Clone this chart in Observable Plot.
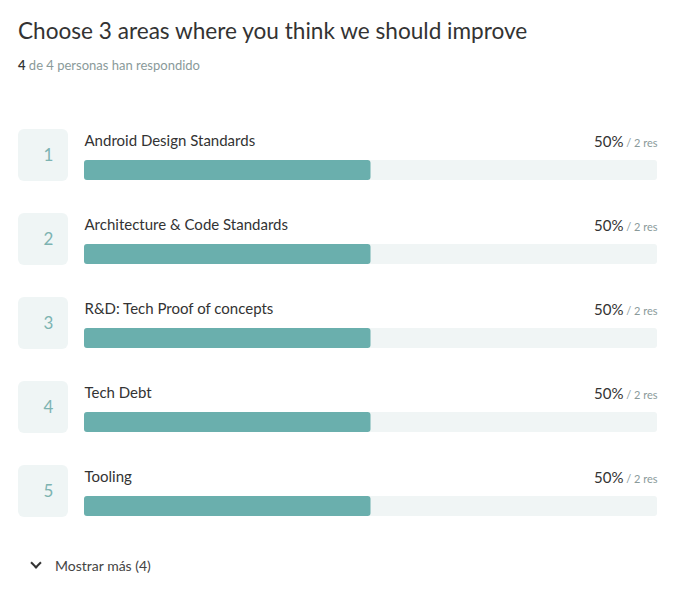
<!DOCTYPE html>
<html><head><meta charset="utf-8">
<script src="https://cdn.jsdelivr.net/npm/d3@7"></script>
<script src="https://cdn.jsdelivr.net/npm/@observablehq/plot@0.6"></script>
<style>
body{margin:0;background:#fff;font-family:Lato,"Open Sans",sans-serif;}
#wrap{position:relative;width:700px;height:602px;overflow:hidden;}
#title{position:absolute;left:18px;top:17px;font-size:22.6px;line-height:28px;color:#333;white-space:nowrap;}
#sub{position:absolute;left:18px;top:57px;font-size:13px;line-height:16px;color:#8a9a9a;}
#sub b{color:#333;font-weight:600;}
#chart{position:absolute;left:0;top:110px;}
#more{position:absolute;left:55px;top:557px;font-size:14px;line-height:18px;color:#444;}
.chev{position:absolute;left:-23px;top:2px;width:6px;height:6px;border-right:2px solid #333;border-bottom:2px solid #333;transform:rotate(45deg);}
</style></head><body>
<div id="wrap">
<div id="title">Choose 3 areas where you think we should improve</div>
<div id="sub"></div>
<div id="chart"></div>
<div id="more"><span class="chev"></span>Mostrar más (4)</div>
</div>
<script>
const ranks = ["1", "2", "3", "4", "5"];
const options = ["Android Design Standards", "Architecture & Code Standards", "R&D: Tech Proof of concepts", "Tech Debt", "Tooling"];
const responses = [2, 2, 2, 2, 2];
const answered = 4;
const invited = 4;

const rows = options.map((o, i) => ({
  rank: ranks[i], option: o, res: responses[i],
  pct: Math.round(responses[i] / answered * 100), max: 100
}));

const sub = document.getElementById("sub");
sub.innerHTML = "<b>" + answered + "</b> de " + invited + " personas han respondido";

const chart = Plot.plot({
  width: 700, height: 430,
  marginLeft: 18, marginRight: 43, marginTop: 0, marginBottom: 0,
  x: {domain: [0, 100], range: [84, 657], axis: null},
  y: {type: "band", domain: options, range: [19, 439], padding: 0, axis: null},
  style: {fontFamily: "Lato, 'Open Sans', sans-serif", background: "transparent", overflow: "visible"},
  marks: [
    Plot.barX(rows, {x: "max", y: "option", dx: -66, insetRight: 523, insetBottom: 32, fill: "#eff5f5", rx: 6}),
    Plot.barX(rows, {x: "max", y: "option", insetTop: 31, insetBottom: 33, fill: "#f0f5f5", rx: 3}),
    Plot.barX(rows, {x: "pct", y: "option", insetTop: 31, insetBottom: 33, fill: "#6aafad", rx: 3}),
    Plot.text(rows, {y: "option", text: "rank", frameAnchor: "left", dx: 25, dy: -16, fontSize: 17, fill: "#7db3b1"}),
    Plot.text(rows, {y: "option", text: "option", frameAnchor: "left", dx: 66, dy: -30, textAnchor: "start", fontSize: 15, fill: "#333"}),
    Plot.text(rows, {y: "option", text: d => d.pct + "%", frameAnchor: "right", dx: -34, dy: -29, textAnchor: "end", fontSize: 15, fill: "#333"}),
    Plot.text(rows, {y: "option", text: d => "/ " + d.res + " res", frameAnchor: "right", dy: -28, textAnchor: "end", fontSize: 11, fill: "#8a9a9a"})
  ]
});
document.getElementById("chart").appendChild(chart);
</script>
</body></html>
